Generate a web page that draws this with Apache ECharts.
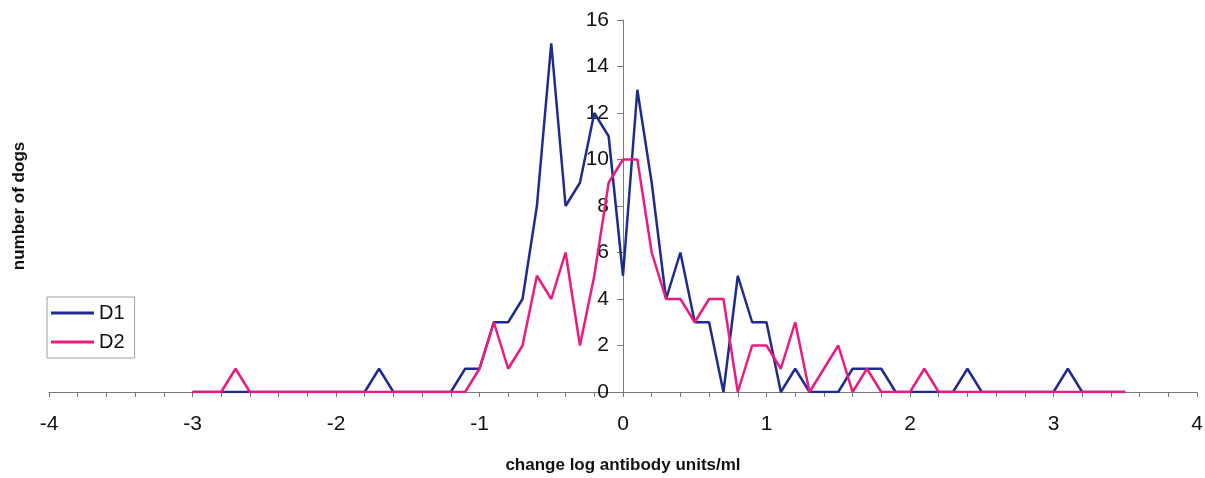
<!DOCTYPE html>
<html>
<head>
<meta charset="utf-8">
<script src="https://cdn.jsdelivr.net/npm/echarts@6/dist/echarts.min.js"></script>
<style>html,body{margin:0;padding:0;background:#fff;}#c{width:1205px;height:478px;}</style>
</head>
<body>
<div id="c"></div>
<script>
// change in log antibody units/ml (bin centres)
const xValues = [
  -3.0,-2.9,-2.8,-2.7,-2.6,-2.5,-2.4,-2.3,-2.2,-2.1,
  -2.0,-1.9,-1.8,-1.7,-1.6,-1.5,-1.4,-1.3,-1.2,-1.1,
  -1.0,-0.9,-0.8,-0.7,-0.6,-0.5,-0.4,-0.3,-0.2,-0.1,
   0.0, 0.1, 0.2, 0.3, 0.4, 0.5, 0.6, 0.7, 0.8, 0.9,
   1.0, 1.1, 1.2, 1.3, 1.4, 1.5, 1.6, 1.7, 1.8, 1.9,
   2.0, 2.1, 2.2, 2.3, 2.4, 2.5, 2.6, 2.7, 2.8, 2.9,
   3.0, 3.1, 3.2, 3.3, 3.4, 3.5
];
const d1 = [
  0,0,0,0,0,0,0,0,0,0,
  0,0,0,1,0,0,0,0,0,1,
  1,3,3,4,8,15,8,9,12,11,
  5,13,9,4,6,3,3,0,5,3,
  3,0,1,0,0,0,1,1,1,0,
  0,0,0,0,1,0,0,0,0,0,
  0,1,0,0,0,0
];
const d2 = [
  0,0,0,1,0,0,0,0,0,0,
  0,0,0,0,0,0,0,0,0,0,
  1,3,1,2,5,4,6,2,5,9,
  10,10,6,4,4,3,4,4,0,2,
  2,1,3,0,1,2,0,1,0,0,
  0,1,0,0,0,0,0,0,0,0,
  0,0,0,0,0,0
];
const seriesNames = ['D1', 'D2'];
const xTitle = 'change log antibody units/ml';
const yTitle = 'number of dogs';

const pair = (ys) => xValues.map((x, i) => [x, ys[i]]);
const FONT = '"Liberation Sans", Arial, sans-serif';
const axisColor = '#6f7d74';

const gridLeft = 49, gridRight = 8;
const plotW = 1205 - gridLeft - gridRight;
// move the y axis to x = 0 (middle of the -4..4 range)
const yOffset = -Math.round(plotW / 2);

const chart = echarts.init(document.getElementById('c'), null, {renderer: 'canvas'});
chart.setOption({
  backgroundColor: '#ffffff',
  animation: false,
  grid: {left: gridLeft, right: gridRight, top: 20, bottom: 86, containLabel: false, outerBoundsMode: 'none'},
  legend: {
    show: true,
    orient: 'vertical',
    left: 47, top: 297,
    padding: [6, 10, 6, 4],
    itemGap: 9,
    itemWidth: 43, itemHeight: 3,
    icon: 'rect',
    borderColor: '#a0a0a0', borderWidth: 1,
    textStyle: {fontFamily: FONT, fontSize: 20, color: '#111'},
    data: seriesNames
  },
  xAxis: {
    type: 'value',
    min: -4, max: 4, interval: 1,
    name: xTitle,
    nameLocation: 'middle',
    nameGap: 65,
    nameTextStyle: {fontFamily: FONT, fontSize: 17, fontWeight: 'bold', color: '#111'},
    axisLine: {show: true, onZero: false, lineStyle: {color: axisColor, width: 1}},
    axisTick: {show: true, length: 5, lineStyle: {color: axisColor}},
    minorTick: {show: true, splitNumber: 5, length: 5, lineStyle: {color: axisColor}},
    axisLabel: {margin: 22, fontFamily: FONT, fontSize: 21, color: '#111'},
    splitLine: {show: false}
  },
  yAxis: {
    type: 'value',
    position: 'left',
    offset: yOffset,
    min: 0, max: 16, interval: 2,
    name: yTitle,
    nameLocation: 'middle',
    nameRotate: 90,
    nameGap: 595,
    nameTextStyle: {fontFamily: FONT, fontSize: 17, fontWeight: 'bold', color: '#111'},
    axisLine: {show: true, onZero: false, lineStyle: {color: axisColor, width: 1}},
    axisTick: {show: true, length: 6, inside: false, lineStyle: {color: axisColor}},
    axisLabel: {margin: 14, fontFamily: FONT, fontSize: 21, color: '#111'},
    splitLine: {show: false}
  },
  series: [
    {
      name: seriesNames[0], type: 'line', data: pair(d1),
      showSymbol: false, symbol: 'none',
      lineStyle: {color: '#1f2b8f', width: 2.5},
      itemStyle: {color: '#1f2b8f'},
      z: 3
    },
    {
      name: seriesNames[1], type: 'line', data: pair(d2),
      showSymbol: false, symbol: 'none',
      lineStyle: {color: '#ec1a80', width: 2.5},
      itemStyle: {color: '#ec1a80'},
      z: 4
    }
  ]
});
</script>
</body>
</html>
